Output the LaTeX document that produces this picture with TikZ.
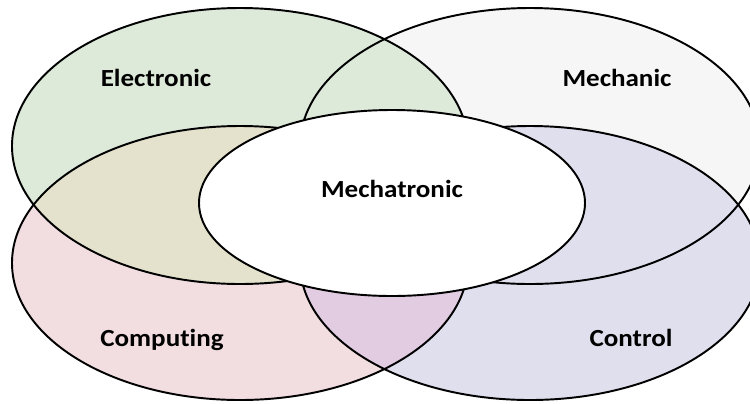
\documentclass[tikz,border=0pt]{standalone}
\usepackage{fontspec}
\setmainfont{Carlito}[Ligatures=NoCommon]
\usetikzlibrary{positioning}
\definecolor{electronicgreen}{RGB}{221,234,218}
\definecolor{mechanicgray}{RGB}{246,246,246}
\definecolor{computingpink}{RGB}{242,222,224}
\definecolor{controlblue}{RGB}{224,223,238}
\definecolor{tanmix}{RGB}{228,226,204}
\definecolor{purplemix}{RGB}{225,204,225}
\tikzset{set/.style = {draw=black, line width=1.1pt}}
\tikzset{word/.style = {
	font=\bfseries\fontsize{14}{16}\selectfont,
	anchor=base, inner sep=0pt
	}}
\newcommand{\wide}[1]{\scalebox{1.1}[1]{#1}}

\begin{document}
\begin{tikzpicture}[x=0.02cm, y=-0.02cm]

	\useasboundingbox (0,0) rectangle (750,403);
	\clip (0,0) rectangle (750,403);

	% Centres of the four fields
	\coordinate (E) at (240,146);
	\coordinate (M) at (530,146);
	\coordinate (P) at (240,263);
	\coordinate (C) at (530,263);
	\coordinate (core) at (392,203);

	% Fills
	\fill[mechanicgray] (M) ellipse [x radius=230, y radius=138];
	\fill[electronicgreen] (E) ellipse [x radius=228, y radius=138];
	\fill[controlblue] (C) ellipse [x radius=230, y radius=137];
	\fill[computingpink] (P) ellipse [x radius=228, y radius=137];
	\begin{scope}
		\clip (E) ellipse [x radius=228, y radius=138];
		\fill[tanmix] (P) ellipse [x radius=228, y radius=137];
	\end{scope}
	\begin{scope}
		\clip (C) ellipse [x radius=230, y radius=137];
		\fill[purplemix] (P) ellipse [x radius=228, y radius=137];
	\end{scope}

	% Outlines
	\draw[set] (M) ellipse [x radius=230, y radius=138];
	\draw[set] (E) ellipse [x radius=228, y radius=138];
	\draw[set] (C) ellipse [x radius=230, y radius=137];
	\draw[set] (P) ellipse [x radius=228, y radius=137];

	% Core
	\filldraw[set, fill=white] (core) ellipse [x radius=193, y radius=93];

	% Labels
	\node (electronic) [word] at (156,86) {\wide{Electronic}};
	\node (mechanic) [word] at (617,86) {\wide{Mechanic}};
	\node (computing) [word] at (162,346) {\wide{Computing}};
	\node (control) [word] at (631,346) {\wide{Control}};
	\node (mechatronic) [word] at (392,197) {\wide{Mechatronic}};

\end{tikzpicture}
\end{document}
